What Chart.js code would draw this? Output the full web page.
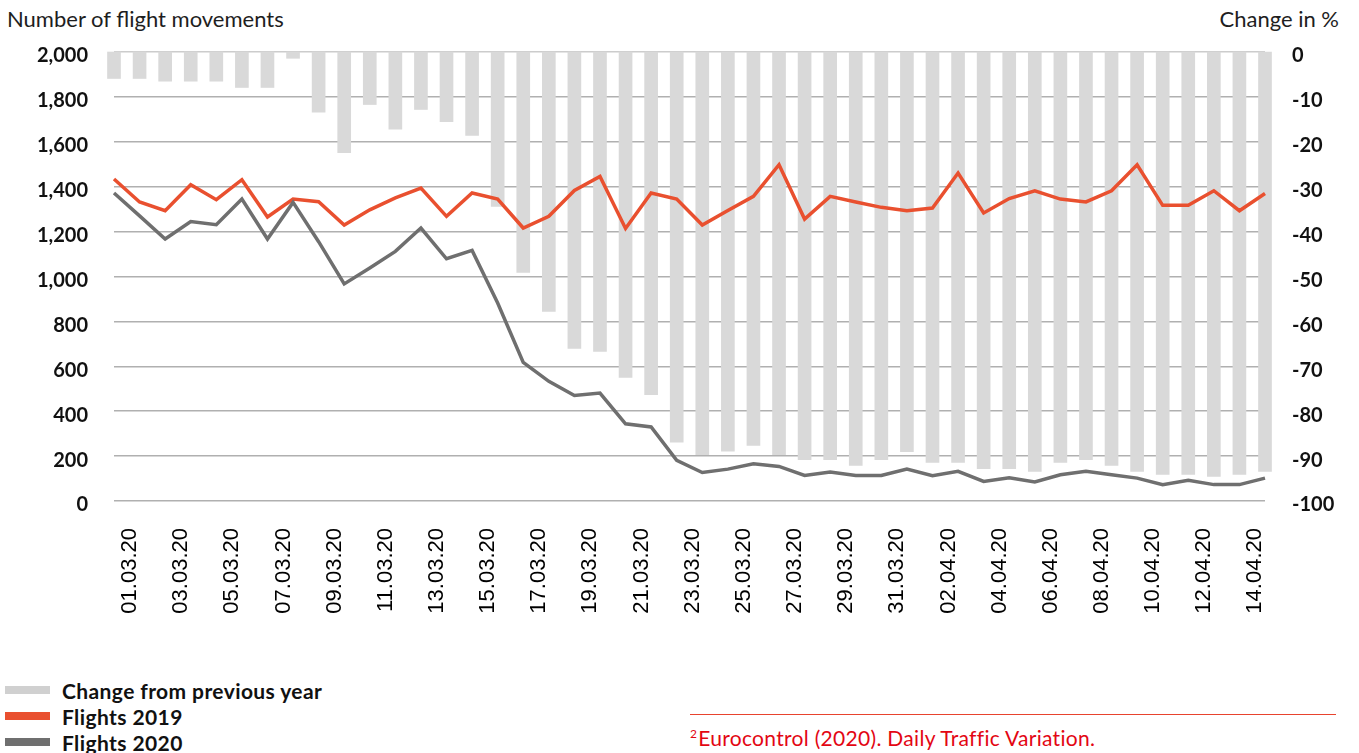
<!DOCTYPE html>
<html>
<head>
<meta charset="utf-8">
<title>Flight movements</title>
<script src="https://cdn.jsdelivr.net/npm/chart.js@4.4.1/dist/chart.umd.min.js"></script>
<style>
    body { margin: 0; width: 1359px; height: 753px; background: #fff; position: relative; overflow: hidden; font-family: Lato, "Noto Sans", sans-serif; }
    #chartWrap { position: absolute; left: 0; top: 0; width: 1359px; height: 640px; }
    .axis-title { position: absolute; top: 5px; font-size: 22px; color: #1e1e1e; }
    #leftTitle { left: 7px; }
    #rightTitle { right: 20px; }
    #legend { position: absolute; left: 5px; top: 677px; }
    .legend-item { height: 26px; display: flex; align-items: center; font-weight: 700; font-size: 21px; letter-spacing: 0.4px; color: #111; }
    .legend-swatch { width: 45px; height: 8px; margin-right: 12px; }
    #footnote { position: absolute; left: 690px; top: 714px; width: 646px; border-top: 1px solid #e8432e; padding-top: 10px; color: #e30613; font-size: 21px; letter-spacing: 0.3px; }
    #footnote sup { font-size: 12px; vertical-align: 8px; margin-right: 1px; }
</style>
</head>
<body>
<div id="leftTitle" class="axis-title">Number of flight movements</div>
<div id="rightTitle" class="axis-title">Change in %</div>
<div id="chartWrap"><canvas id="flightChart" width="1359" height="640"></canvas></div>
<div id="legend"></div>
<div id="footnote"><sup>2</sup>Eurocontrol (2020). Daily Traffic Variation.</div>

<script>
const days = [
    '01.03.20', '02.03.20', '03.03.20', '04.03.20', '05.03.20', '06.03.20', '07.03.20', '08.03.20',
    '09.03.20', '10.03.20', '11.03.20', '12.03.20', '13.03.20', '14.03.20', '15.03.20', '16.03.20',
    '17.03.20', '18.03.20', '19.03.20', '20.03.20', '21.03.20', '22.03.20', '23.03.20', '24.03.20',
    '25.03.20', '26.03.20', '27.03.20', '28.03.20', '29.03.20', '30.03.20', '31.03.20', '01.04.20',
    '02.04.20', '03.04.20', '04.04.20', '05.04.20', '06.04.20', '07.04.20', '08.04.20', '09.04.20',
    '10.04.20', '11.04.20', '12.04.20', '13.04.20', '14.04.20', '15.04.20'
];

const flights2019 = [
    1434, 1332, 1293, 1409, 1342, 1431, 1265, 1345, 1333, 1229, 1297, 1350, 1394, 1268, 1372, 1345,
    1216, 1268, 1383, 1446, 1214, 1372, 1345, 1229, 1294, 1357, 1498, 1256, 1357, 1332, 1308, 1293,
    1305, 1461, 1283, 1347, 1382, 1345, 1332, 1382, 1498, 1317, 1317, 1382, 1293, 1370
];

const flights2020 = [
    1372, 1270, 1167, 1245, 1231, 1345, 1167, 1330, 1155, 967, 1038, 1112, 1216, 1079, 1116, 882,
    617, 533, 470, 481, 344, 330, 181, 127, 142, 166, 154, 114, 129, 114, 114, 142,
    113, 132, 87, 104, 85, 117, 132, 117, 102, 73, 92, 73, 73, 102
];

// year-on-year change in percent, plotted on the right axis
const changePct = [
    -5.9, -5.9, -6.5, -6.5, -6.5, -7.9, -7.9, -1.4, -13.4, -22.4, -11.7, -17.2, -12.8, -15.5, -18.6, -34.4,
    -49.1, -57.8, -66.0, -66.7, -72.5, -76.3, -86.9, -89.7, -88.9, -87.6, -89.7, -90.8, -90.8, -92.1, -90.8, -89.0,
    -91.4, -91.4, -92.8, -92.8, -93.4, -91.4, -90.8, -92.1, -93.4, -94.1, -94.1, -94.5, -94.1, -93.4
];

const leftTicksMax = 2000;
const rightTicksMin = -100;

const tickFont = { family: 'Lato, "Noto Sans", sans-serif', size: 20, weight: '700' };

const ctx = document.getElementById('flightChart').getContext('2d');
const flightChart = new Chart(ctx, {
    data: {
        labels: days,
        datasets: [
            {
                type: 'line',
                label: 'Flights 2020',
                data: flights2020,
                yAxisID: 'y',
                borderColor: '#6f6f6f',
                backgroundColor: '#6f6f6f',
                borderWidth: 3.5,
                pointRadius: 0,
                tension: 0,
                order: 1
            },
            {
                type: 'line',
                label: 'Flights 2019',
                data: flights2019,
                yAxisID: 'y',
                borderColor: '#e9502f',
                backgroundColor: '#e9502f',
                borderWidth: 3.5,
                pointRadius: 0,
                tension: 0,
                order: 2
            },
            {
                type: 'bar',
                label: 'Change from previous year',
                data: changePct,
                yAxisID: 'y1',
                backgroundColor: '#d9d9d9',
                barThickness: 13,
                clip: false,
                order: 3
            }
        ]
    },
    options: {
        responsive: false,
        animation: false,
        layout: { padding: { top: 52, left: 0, right: 0, bottom: 0 } },
        plugins: {
            legend: { display: false },
            tooltip: { enabled: false }
        },
        scales: {
            x: {
                offset: false,
                grid: { display: false },
                border: { display: false },
                ticks: {
                    autoSkip: false,
                    minRotation: 90,
                    maxRotation: 90,
                    padding: 19,
                    labelOffset: 16,
                    color: '#000',
                    font: { family: '"Liberation Sans", Arial, sans-serif', size: 22 },
                    callback: (value, index) => index % 2 === 0 ? days[index] : null
                },
                afterFit: scale => { scale.height = 139; }
            },
            y: {
                position: 'left',
                min: 0,
                max: leftTicksMax,
                border: { display: false },
                grid: {
                    drawTicks: false,
                    lineWidth: 1.5,
                    color: c => c.tick && c.tick.value === leftTicksMax ? '#cccccc' : '#b0b0b0'
                },
                ticks: { stepSize: 200, padding: 26, labelOffset: 4, color: '#111', font: tickFont },
                afterFit: scale => { scale.width = 114; }
            },
            y1: {
                position: 'right',
                min: rightTicksMin,
                max: 0,
                border: { display: false },
                grid: { display: false, drawTicks: false },
                ticks: { stepSize: 10, padding: 27, labelOffset: 4, color: '#111', font: tickFont },
                afterFit: scale => { scale.width = 94; }
            }
        }
    }
});

// legend drawn below the chart, one entry per line
function renderLegend(chart) {
    const legend = document.getElementById('legend');
    legend.innerHTML = '';
    const order = [2, 1, 0];
    order.forEach(i => {
        const ds = chart.data.datasets[i];
        const item = document.createElement('div');
        item.className = 'legend-item';
        const swatch = document.createElement('span');
        swatch.className = 'legend-swatch';
        swatch.style.background = ds.type === 'bar' ? '#d0d0d0' : ds.borderColor;
        item.appendChild(swatch);
        item.appendChild(document.createTextNode(ds.label));
        legend.appendChild(item);
    });
}

renderLegend(flightChart);
</script>
</body>
</html>
